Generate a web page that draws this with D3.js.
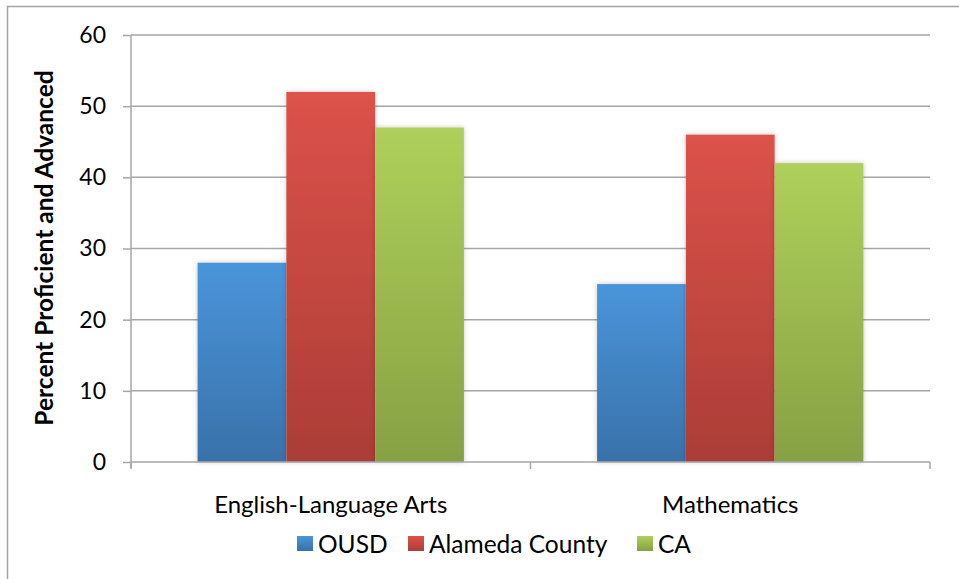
<!DOCTYPE html>
<html>
<head>
<meta charset="utf-8">
<script src="https://cdn.jsdelivr.net/npm/d3@7"></script>
<style>
  html, body { margin: 0; padding: 0; background: #fff; }
  svg { display: block; font-family: Lato, "Open Sans", sans-serif; }
</style>
</head>
<body>
<svg id="chart" width="959" height="579"></svg>
<script>
// Share of students scoring proficient or advanced
const categories = ["English-Language Arts", "Mathematics"];
const seriesNames = ["OUSD", "Alameda County", "CA"];
const ousd = [28, 25];
const alameda = [52, 46];
const ca = [47, 42];
const yTicks = [0, 10, 20, 30, 40, 50, 60];

const seriesValues = [ousd, alameda, ca];
const colors = [
  { top: "#4a95da", bottom: "#3971a9" },
  { top: "#dc524a", bottom: "#ab3d37" },
  { top: "#afd05b", bottom: "#86a143" }
];

const svg = d3.select("#chart");
const W = 959, H = 579;
const m = { left: 131, right: 29, top: 35, bottom: 117 };
const plotW = W - m.left - m.right;
const plotH = H - m.top - m.bottom;

const defs = svg.append("defs");
colors.forEach((c, i) => {
  const g = defs.append("linearGradient")
    .attr("id", "grad" + i)
    .attr("x1", 0).attr("y1", 0).attr("x2", 0).attr("y2", 1);
  g.append("stop").attr("offset", "0%").attr("stop-color", c.top);
  g.append("stop").attr("offset", "100%").attr("stop-color", c.bottom);
});
const shadow = defs.append("filter").attr("id", "shadow")
  .attr("x", "-20%").attr("y", "-10%").attr("width", "140%").attr("height", "120%");
shadow.append("feDropShadow")
  .attr("dx", 0).attr("dy", 0).attr("stdDeviation", 2.5)
  .attr("flood-color", "#000").attr("flood-opacity", 0.22);

// outer chart frame (top and left edges visible)
svg.append("path")
  .attr("d", `M7.5,${H} L7.5,6.5 L${W},6.5`)
  .attr("fill", "none").attr("stroke", "#a3a3a3").attr("stroke-width", 1.5);

const x0 = d3.scaleBand().domain(categories).range([0, plotW]);
const innerW = x0.bandwidth() * 3 / 4.5;
const x1 = d3.scaleBand().domain(seriesNames)
  .range([(x0.bandwidth() - innerW) / 2, (x0.bandwidth() + innerW) / 2]);
const y = d3.scaleLinear().domain([0, 60]).range([plotH, 0]);

const g = svg.append("g").attr("transform", `translate(${m.left},${m.top})`);

// horizontal gridlines
g.append("g").selectAll("line").data(yTicks.filter(t => t > 0)).join("line")
  .attr("x1", 0).attr("x2", plotW)
  .attr("y1", d => y(d)).attr("y2", d => y(d))
  .attr("stroke", "#a6a6a6").attr("stroke-width", 1.5);

// bars
const groups = g.append("g").selectAll("g").data(categories).join("g")
  .attr("transform", d => `translate(${x0(d)},0)`);
groups.selectAll("rect")
  .data((c, ci) => seriesNames.map((s, si) => ({ s, si, v: seriesValues[si][ci] })))
  .join("rect")
  .attr("x", d => x1(d.s))
  .attr("width", x1.bandwidth())
  .attr("y", d => y(d.v))
  .attr("height", d => plotH - y(d.v))
  .attr("fill", d => `url(#grad${d.si})`)
  .attr("filter", "url(#shadow)");

// y axis
const yAxis = g.append("g").call(
  d3.axisLeft(y).tickValues(yTicks).tickSize(8).tickPadding(17).tickFormat(d3.format("d"))
);
yAxis.select(".domain").attr("stroke", "#a6a6a6").attr("stroke-width", 1.5)
  .attr("d", `M0,0V${plotH + 6}`);
yAxis.selectAll(".tick line").attr("stroke", "#a6a6a6").attr("stroke-width", 1.5);
yAxis.selectAll(".tick text").attr("font-size", 23).attr("fill", "#000")
  .attr("font-family", "Lato, sans-serif");

// x axis
const xAxis = g.append("g").attr("transform", `translate(0,${plotH})`);
xAxis.append("line").attr("x1", 0).attr("x2", plotW).attr("y1", 0).attr("y2", 0)
  .attr("stroke", "#a6a6a6").attr("stroke-width", 1.5);
xAxis.selectAll("line.tk").data([0, ...categories.map(c => x0(c) + x0.bandwidth())]).join("line")
  .attr("class", "tk")
  .attr("x1", d => d).attr("x2", d => d).attr("y1", 0).attr("y2", 7)
  .attr("stroke", "#a6a6a6").attr("stroke-width", 1.5);
xAxis.selectAll("text").data(categories).join("text")
  .attr("x", d => x0(d) + x0.bandwidth() / 2)
  .attr("y", 51)
  .attr("text-anchor", "middle")
  .attr("font-size", 24).attr("fill", "#000")
  .text(d => d);

// y axis title
svg.append("text")
  .attr("transform", `translate(53,248) rotate(-90)`)
  .attr("text-anchor", "middle")
  .attr("font-size", 24.5).attr("font-weight", "bold").attr("fill", "#000")
  .text("Percent Proficient and Advanced");

// legend
const legendX = [297, 408, 637];
const legend = svg.append("g").selectAll("g").data(seriesNames).join("g")
  .attr("transform", (d, i) => `translate(${legendX[i]},536)`);
legend.append("rect").attr("width", 16).attr("height", 15)
  .attr("fill", (d, i) => `url(#grad${i})`);
legend.append("text").attr("x", 21).attr("y", 17)
  .attr("font-size", 24.5).attr("fill", "#000").text(d => d);
</script>
</body>
</html>
